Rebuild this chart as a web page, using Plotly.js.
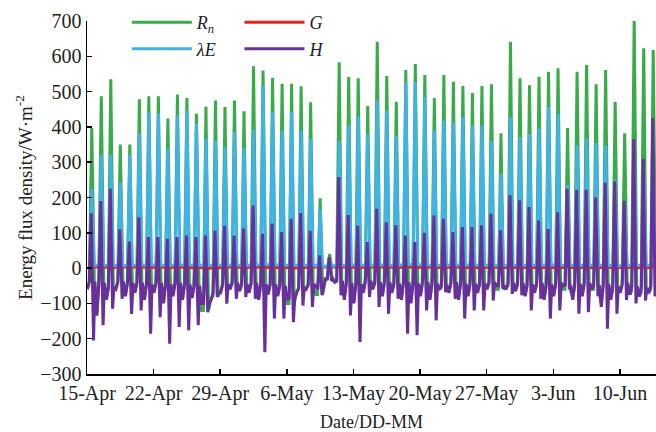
<!DOCTYPE html>
<html><head><meta charset="utf-8">
<script src="https://cdn.plot.ly/plotly-3.0.1.min.js"></script>
<style>html,body{margin:0;padding:0;background:#fff}#chart{width:656px;height:432px}</style>
</head><body><div id="chart"></div>
<script>
// Day 0 = 15-Apr ... day 59 = 13-Jun
const startDay = Date.UTC(2013, 3, 15);
const rnPeak = [397,487,535,350,350,478,487,487,424,492, 482,437,458,475,456,475,444,572,560,539,
                522,522,515,470,198,40,583,541,538,459, 641,544,471,561,578,547,482,547,528,516,
                496,516,521,382,641,538,518,542,556,566, 397,556,575,521,561,471,382,710,623,618];
const rnLow  = [-40,-45,-60,-40,-45,-45,-50,-45,-50,-45, -50,-55,-120,-80,-50,-45,-50,-45,-50,-50,
                -55,-100,-60,-50,-75,-35,-40,-45,-50,-40, -45,-45,-50,-45,-50,-45,-50,-55,-45,-50,
                -50,-50,-45,-60,-50,-50,-55,-50,-55,-50, -60,-55,-50,-60,-55,-65,-50,-65,-70,-60];
const rnMid  = [-55,-125,-85,-55,-75,-65,-85,-65,-95,-75, -85,-80,-120,-85,-65,-55,-60,-65,-85,-70,
                -75,-100,-65,-55,-75,-30,-35,-85,-95,-65, -55,-75,-65,-85,-95,-75,-85,-60,-65,-85,
                -75,-65,-55,-60,-55,-60,-75,-65,-85,-75, -60,-85,-75,-60,-100,-85,-65,-75,-80,-70];
const lePeak = [224,321,321,243,320,382,442,437,338,432, 446,409,366,361,342,385,342,392,517,442,
                390,442,390,366,167,30,361,404,429,380, 475,446,375,527,527,484,390,418,413,428,
                404,404,361,267,428,371,380,394,456,437, 235,348,367,354,348,250,185,300,280,300];
const leLow  = [8,9,8,7,8,9,9,8,8,9, 9,8,8,9,8,9,8,9,10,9,
                9,8,9,8,6,5,8,9,9,8, 9,9,8,10,10,9,8,9,9,9,
                9,8,8,7,9,8,8,9,9,9, 7,8,8,8,8,7,7,8,8,8];
const hPeak  = [155,190,225,110,75,144,88,88,83,88, 92,88,92,106,120,92,112,177,97,126,
                102,140,156,106,36,31,258,150,120,74, 168,130,121,92,74,100,149,140,102,116,
                116,121,154,107,206,192,173,135,111,158, 225,222,222,200,242,245,190,365,310,425];
const hDip   = [-205,-162,-115,-87,-130,-120,-186,-139,-214,-167, -176,-162,-125,-82,-101,-87,-82,-87,-238,-143,
                -143,-153,-106,-110,-77,-35,-77,-134,-209,-82, -110,-129,-87,-186,-190,-120,-148,-68,-87,-143,
                -120,-120,-92,-58,-73,-77,-120,-87,-143,-120, -60,-129,-125,-80,-172,-129,-90,-100,-92,-80];
const hNight = [-38,-42,-55,-38,-42,-42,-46,-42,-46,-42, -46,-50,-100,-70,-46,-42,-46,-42,-46,-46,
                -50,-85,-55,-46,-60,-30,-36,-42,-46,-36, -40,-40,-44,-40,-44,-40,-44,-48,-40,-44,
                -44,-44,-40,-50,-42,-42,-46,-42,-46,-42, -48,-45,-42,-48,-45,-52,-42,-52,-56,-50];
const hNight2 = [-60,-135,-90,-60,-80,-70,-90,-70,-100,-80, -90,-85,-100,-90,-70,-60,-65,-70,-90,-75,
                 -80,-90,-70,-60,-50,-30,-40,-90,-100,-70, -60,-80,-70,-90,-100,-80,-90,-60,-70,-90,
                 -80,-70,-60,-50,-60,-65,-80,-70,-90,-80, -50,-90,-80,-60,-110,-90,-70,-75,-80,-70];
const gPeak  = [13,14,15,10,11,13,14,14,12,14, 14,13,13,14,13,14,13,15,15,14,
                14,14,14,13,6,4,15,14,14,13, 15,14,13,15,15,14,13,14,14,14,
                14,14,14,12,15,14,14,14,14,15, 12,14,14,14,14,13,12,15,14,14];
const gLow   = [3,3,2,3,3,3,2,3,2,3, 2,2,0,1,3,3,2,3,2,2,
                2,0,2,3,3,4,3,3,2,3, 3,3,2,3,2,3,2,2,3,2,
                2,2,3,2,2,2,2,2,2,2, 2,2,2,2,2,1,2,1,1,2];
const tickLabelsFmt = '%-d-%b';

const DAY = 864e5;
function t(i, h){ return startDay + (i + h/24) * DAY; }

function build(pattern){ // pattern: list of [hour, array]
  const xs = [], ys = [];
  for (let i = 0; i < rnPeak.length; i++) {
    pattern.forEach(([h, arr]) => { xs.push(t(i, h)); ys.push(arr[i]); });
  }
  return {x: xs, y: ys};
}
const rn = build([[1, rnMid], [5.5, rnLow], [12, rnPeak], [18.5, rnLow]]);
const le = build([[6.5, leLow], [12, lePeak], [18, leLow]]);
const hh = build([[1, hNight2], [6, hNight], [10.8, hPeak], [16.5, hDip], [20, hNight]]);
const gg = build([[8, gLow], [14, gPeak], [20, gLow]]);

const serif = 'Liberation Serif, Times New Roman, serif';
const traces = [
  {x: rn.x, y: rn.y, mode: 'lines', name: '<i>R</i><sub><i>n</i></sub>', line: {color: '#3aab4a', width: 3}, legend: 'legend', legendrank: 1},
  {x: gg.x, y: gg.y, mode: 'lines', name: '<i>G</i>', line: {color: '#e3261c', width: 3}, legend: 'legend2', legendrank: 1},
  {x: le.x, y: le.y, mode: 'lines', name: '<i>λE</i>', line: {color: '#3fb3e6', width: 3}, legend: 'legend', legendrank: 2},
  {x: hh.x, y: hh.y, mode: 'lines', name: '<i>H</i>', line: {color: '#68309a', width: 3}, legend: 'legend2', legendrank: 2}
];
const legendBase = {
  xanchor: 'left', yanchor: 'top', bgcolor: 'rgba(0,0,0,0)', borderwidth: 0,
  font: {family: serif, size: 18, color: '#222'}, itemwidth: 60, tracegroupgap: 0
};
const layout = {
  width: 656, height: 432,
  margin: {l: 87, r: 0, t: 21, b: 58},
  paper_bgcolor: '#fff', plot_bgcolor: '#fff',
  showlegend: true,
  legend: Object.assign({}, legendBase, {x: 0.07, y: 1.048}),
  legend2: Object.assign({}, legendBase, {x: 0.268, y: 1.048}),
  xaxis: {
    type: 'date',
    range: [startDay, t(59, 19)],
    tick0: startDay, dtick: 7 * DAY, tickformat: tickLabelsFmt,
    ticks: 'inside', ticklen: 5, tickwidth: 1.5, tickcolor: '#000',
    showline: true, linecolor: '#000', linewidth: 1.5,
    showgrid: false, zeroline: false,
    tickfont: {family: serif, size: 20, color: '#222'},
    title: {text: 'Date/DD-MM', font: {family: serif, size: 18, color: '#222'}, standoff: 14}
  },
  yaxis: {
    range: [-300, 700], dtick: 100, tick0: 0,
    ticks: 'inside', ticklen: 5, tickwidth: 1.5, tickcolor: '#000',
    showline: true, linecolor: '#000', linewidth: 1.5,
    showgrid: false, zeroline: false,
    tickfont: {family: serif, size: 20, color: '#222'},
    title: {text: 'Energy flux density/W·m<sup>-2</sup>', font: {family: serif, size: 19, color: '#222'}, standoff: 2}
  }
};
Plotly.newPlot('chart', traces, layout, {displayModeBar: false, staticPlot: true});
</script></body></html>
